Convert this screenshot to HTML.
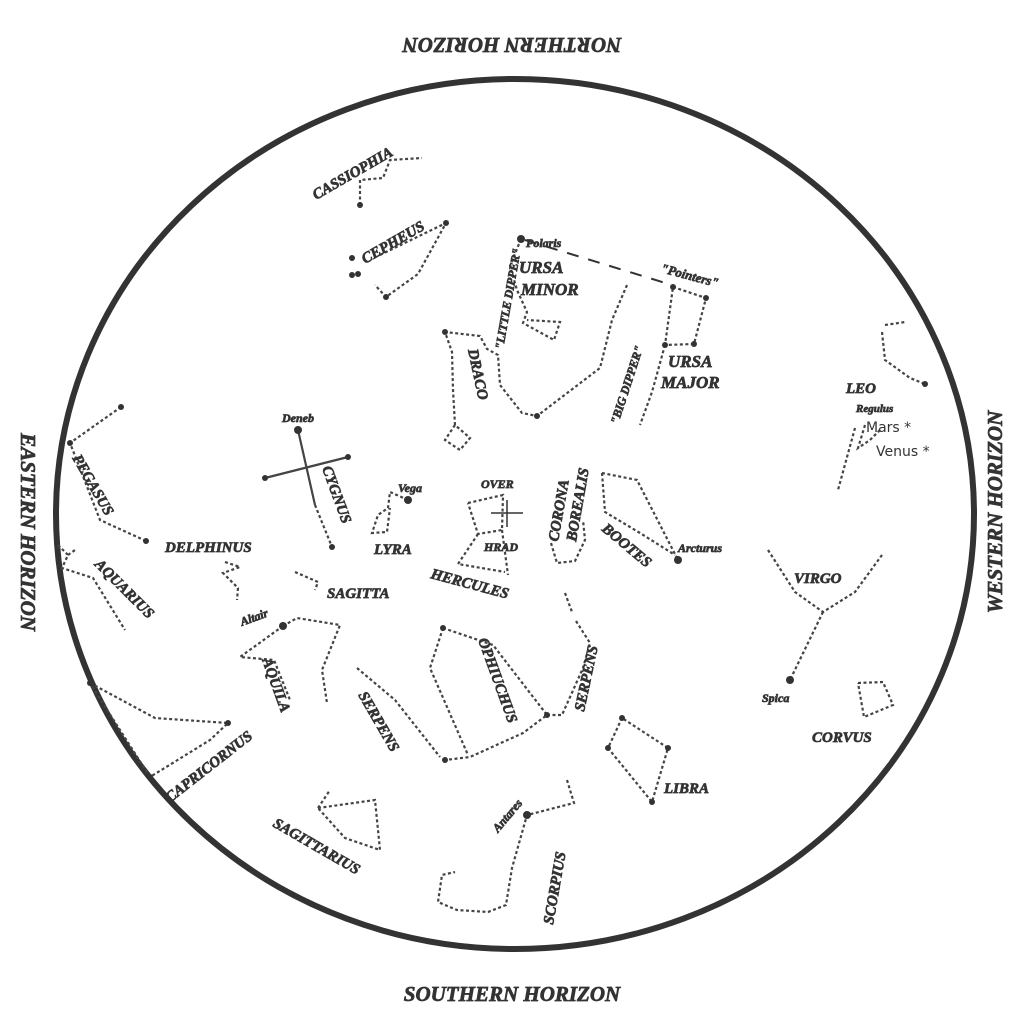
<!DOCTYPE html>
<html><head><meta charset="utf-8"><style>
html,body{margin:0;padding:0;background:#fff;}
svg{display:block}
text{font-family:"Liberation Serif",serif;font-weight:bold;font-style:italic;fill:#333;stroke:#333;stroke-width:0.7;}
.n{font-family:'DejaVu Sans',sans-serif;font-weight:normal;font-style:normal;stroke:none;}
.l{fill:none;stroke:#444;stroke-width:2.2;stroke-dasharray:3 2.5;}
.s{fill:#333;}
</style></head><body>
<svg width="1024" height="1021" viewBox="0 0 1024 1021" xmlns="http://www.w3.org/2000/svg">
<rect width="1024" height="1021" fill="#fff"/>
<ellipse cx="515" cy="514" rx="459" ry="435" fill="none" stroke="#333" stroke-width="6"/>
<text x="0" y="0" font-size="21" text-anchor="middle" transform="translate(512,38) rotate(180)">NORTHERN HORIZON</text>
<text x="512" y="1001" font-size="21" text-anchor="middle">SOUTHERN HORIZON</text>
<text font-size="21" text-anchor="middle" transform="translate(21,532) rotate(90)">EASTERN HORIZON</text>
<text font-size="21" text-anchor="middle" transform="translate(1002,512) rotate(-90)">WESTERN HORIZON</text>

<g>
<polyline class="l" points="360,205 360,180 383,178 390,160 422,158"/>
<polyline class="l" points="380,255 446,223 418,274 386,297 375,285"/>
<polyline class="l" points="521,239 510,266 517,290 527,312 523,323 554,340 560,322 527,320"/>
<line x1="525" y1="240" x2="672" y2="285" stroke="#333" stroke-width="2" stroke-dasharray="12 10"/>
<polyline class="l" points="455,425 453,390 452,352 445,332 480,336 487,349 498,355 500,385 522,413 537,416 600,368 612,320 627,285"/>
<polyline class="l" points="455,425 445,440 460,450 470,438 455,425"/>
<polyline class="l" points="673,287 706,298 694,344 665,345 673,287"/>
<polyline class="l" points="665,345 652,392 640,425"/>
<polyline class="l" style="stroke-dasharray:none" points="298,430 315,505"/>
<polyline class="l" points="315,505 332,547"/>
<polyline class="l" style="stroke-dasharray:none" points="265,478 348,457"/>
<polyline class="l" points="408,500 390,492 388,508 378,515 372,533 387,532 390,508"/>
<polyline class="l" points="468,503 503,495 502,530 478,534 468,503"/>
<polyline class="l" points="478,534 458,564 505,572"/>
<polyline class="l" points="502,530 508,575"/>
<line x1="491" y1="513" x2="523" y2="513" stroke="#333" stroke-width="1.5"/>
<line x1="507" y1="500" x2="507" y2="527" stroke="#333" stroke-width="1.5"/>
<polyline class="l" points="551,543 557,563 575,561 585,540 583,520"/>
<polyline class="l" points="602,473 637,480 678,560"/>
<polyline class="l" points="602,473 605,512 640,533 675,555"/>
<polyline class="l" points="768,550 795,592 823,612 855,592 882,555"/>
<polyline class="l" points="823,612 790,680"/>
<polyline class="l" points="858,683 883,682 893,705 864,717 858,683"/>
<polyline class="l" points="885,325 905,322"/>
<polyline class="l" points="882,332 885,360 910,378 925,384"/>
<polyline class="l" points="855,428 838,490"/>
<polyline class="l" points="865,425 858,448 870,440 880,430"/>
<polyline class="l" points="622,718 608,748 652,802 668,748 622,718"/>
<polyline class="l" points="565,593 572,612"/>
<polyline class="l" points="576,621 590,643 583,668 562,715 547,715"/>
<polyline class="l" points="443,628 493,645 547,715 523,733 470,757 445,760"/>
<polyline class="l" points="443,628 430,668 468,755"/>
<polyline class="l" points="357,668 395,700 440,757"/>
<polyline class="l" points="567,780 574,803 527,815 512,868 506,905 488,912 457,910 438,902 442,875 455,872"/>
<polyline class="l" points="318,808 375,800 380,850 345,838 318,808"/>
<polyline class="l" points="318,808 330,790"/>
<polyline class="l" points="90,683 155,718 228,723 210,740 150,777 90,683"/>
<polyline class="l" points="283,626 297,618 340,625 322,670 327,703"/>
<polyline class="l" points="283,626 240,657 274,660 290,700"/>
<polyline class="l" points="295,572 318,582 315,590"/>
<polyline class="l" points="225,562 240,567 223,573 238,588 237,600"/>
<polyline class="l" points="121,407 70,443 100,520 146,541"/>
<polyline class="l" points="58,545 68,555 62,568 93,578 125,630"/>
<polyline class="l" points="68,555 75,550"/>
</g>
<g class="s">
<circle cx="521" cy="239" r="4"/><circle cx="298" cy="430" r="4"/><circle cx="408" cy="500" r="4"/>
<circle cx="678" cy="560" r="4"/><circle cx="790" cy="680" r="4"/><circle cx="283" cy="626" r="4"/>
<circle cx="527" cy="815" r="4"/><circle cx="925" cy="384" r="3"/>
<circle cx="360" cy="205" r="3"/><circle cx="352" cy="258" r="3"/><circle cx="352" cy="275" r="3"/><circle cx="358" cy="274" r="3"/>
<circle cx="446" cy="223" r="3"/><circle cx="386" cy="297" r="3"/><circle cx="673" cy="287" r="3"/><circle cx="706" cy="298" r="3"/>
<circle cx="665" cy="345" r="3"/><circle cx="694" cy="344" r="3"/><circle cx="445" cy="332" r="3"/><circle cx="537" cy="416" r="3"/>
<circle cx="332" cy="547" r="3"/><circle cx="265" cy="478" r="3"/><circle cx="348" cy="457" r="3"/>
<circle cx="608" cy="748" r="3"/><circle cx="652" cy="802" r="3"/><circle cx="668" cy="748" r="3"/><circle cx="622" cy="718" r="3"/>
<circle cx="547" cy="715" r="3"/><circle cx="445" cy="760" r="3"/><circle cx="443" cy="628" r="3"/>
<circle cx="150" cy="777" r="3"/><circle cx="90" cy="683" r="3"/><circle cx="228" cy="723" r="3"/>
<circle cx="121" cy="407" r="3"/><circle cx="70" cy="443" r="3"/><circle cx="146" cy="541" r="3"/>
</g>

<g font-size="15">
<text transform="translate(316,200) rotate(-30)">CASSIOPHIA</text>
<text transform="translate(365,264) rotate(-30)">CEPHEUS</text>
<text x="526" y="247" font-size="12">Polaris</text>
<text x="519" y="273" font-size="17">URSA</text>
<text x="521" y="295" font-size="17">MINOR</text>
<text font-size="12" transform="translate(503,350) rotate(-80)">"LITTLE DIPPER"</text>
<text font-size="13" transform="translate(660,272) rotate(15)">"Pointers"</text>
<text x="668" y="367" font-size="17">URSA</text>
<text x="661" y="388" font-size="17">MAJOR</text>
<text font-size="12" transform="translate(618,425) rotate(-72)">"BIG DIPPER"</text>
<text transform="translate(468,350) rotate(78)">DRACO</text>
<text x="282" y="422" font-size="12">Deneb</text>
<text transform="translate(322,468) rotate(70)">CYGNUS</text>
<text x="398" y="492" font-size="12">Vega</text>
<text x="374" y="554">LYRA</text>
<text x="481" y="488" font-size="12">OVER</text>
<text x="484" y="551" font-size="12">HRAD</text>
<text transform="translate(430,578) rotate(15)">HERCULES</text>
<text transform="translate(558,542) rotate(-80)">CORONA</text>
<text transform="translate(576,542) rotate(-80)">BOREALIS</text>
<text transform="translate(601,530) rotate(40)">BOOTES</text>
<text x="678" y="552" font-size="12">Arcturus</text>
<text x="794" y="583">VIRGO</text>
<text x="762" y="702" font-size="12">Spica</text>
<text x="812" y="742">CORVUS</text>
<text x="664" y="793">LIBRA</text>
<text x="846" y="393">LEO</text>
<text x="856" y="412" font-size="11">Regulus</text>
<text x="866" y="432" class="n" font-size="14">Mars *</text>
<text x="876" y="456" class="n" font-size="14">Venus *</text>
<text x="165" y="552">DELPHINUS</text>
<text x="327" y="598">SAGITTA</text>
<text transform="translate(72,458) rotate(60)">PEGASUS</text>
<text transform="translate(94,565) rotate(45)">AQUARIUS</text>
<text transform="translate(242,626) rotate(-20)" font-size="12">Altair</text>
<text transform="translate(262,660) rotate(70)">AQUILA</text>
<text transform="translate(358,695) rotate(60)">SERPENS</text>
<text transform="translate(478,640) rotate(70)">OPHIUCHUS</text>
<text transform="translate(584,712) rotate(-78)">SERPENS</text>
<text transform="translate(170,803) rotate(-38)">CAPRICORNUS</text>
<text transform="translate(272,826) rotate(30)">SAGITTARIUS</text>
<text transform="translate(498,833) rotate(-50)" font-size="12">Antares</text>
<text transform="translate(553,925) rotate(-80)">SCORPIUS</text>
</g>
</svg>
</body></html>
